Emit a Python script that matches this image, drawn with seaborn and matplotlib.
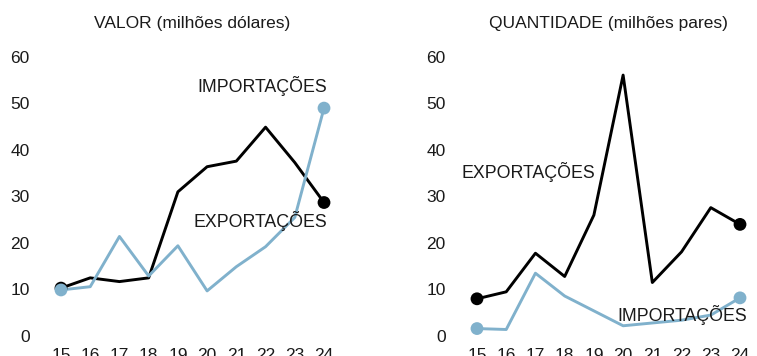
import matplotlib
matplotlib.use("Agg")
import matplotlib.pyplot as plt
import seaborn as sns
import pandas as pd

sns.set_theme(style="white")
plt.rcParams["font.family"] = ["Liberation Sans", "DejaVu Sans"]

anos = [15, 16, 17, 18, 19, 20, 21, 22, 23, 24]
valor_export = [10.3, 12.5, 11.7, 12.5, 31.0, 36.4, 37.6, 44.9, 37.3, 28.7]
valor_import = [9.9, 10.6, 21.4, 12.9, 19.4, 9.7, 14.9, 19.2, 25.5, 49.0]
qtd_export = [8.0, 9.5, 17.8, 12.8, 26.0, 56.1, 11.5, 18.1, 27.6, 24.0]
qtd_import = [1.6, 1.4, 13.5, 8.6, 5.4, 2.2, 2.8, 3.4, 4.5, 8.2]
y_ticks = [0, 10, 20, 30, 40, 50, 60]

PRETO = "#000000"
AZUL = "#80B1CC"
TEXTO = "#1a1a1a"

W, H = 757, 356
fig = plt.figure(figsize=(W / 100, H / 100), dpi=100)


def painel(left_px, export, importa, titulo, rotulos):
    ax = fig.add_axes([left_px / W, 1 - 340.65 / H, 286.4 / W, 293 / H])
    df = pd.DataFrame({
        "ano": anos * 2,
        "valor": export + importa,
        "serie": ["EXPORTAÇÕES"] * len(anos) + ["IMPORTAÇÕES"] * len(anos),
    })
    pal = {"EXPORTAÇÕES": PRETO, "IMPORTAÇÕES": AZUL}
    sns.lineplot(data=df, x="ano", y="valor", hue="serie", palette=pal,
                 linewidth=2.1, ax=ax, legend=False, zorder=2)
    ends = df[df["ano"].isin([anos[0], anos[-1]])]
    sns.scatterplot(data=ends, x="ano", y="valor", hue="serie", palette=pal,
                    s=85, edgecolor="none", ax=ax, legend=False, zorder=3)
    ax.set_xlim(14.6, 24.4)
    ax.set_ylim(-1, 62)
    ax.set_xticks(anos)
    ax.set_xticklabels([str(a) for a in anos])
    ax.set_yticks(y_ticks)
    ax.set_xlabel("")
    ax.set_ylabel("")
    ax.tick_params(axis="both", length=0, labelsize=12.5, colors=TEXTO)
    ax.tick_params(axis="x", pad=5)
    ax.tick_params(axis="y", pad=14)
    for s in ax.spines.values():
        s.set_visible(False)
    ax.grid(False)
    ax.set_title(titulo, fontsize=12.5, color=TEXTO, pad=14)
    for (tx, ty, txt) in rotulos:
        ax.text(tx, ty, txt, ha="right", va="center", fontsize=12.8,
                color=TEXTO, zorder=4)
    return ax


painel(49.3, valor_export, valor_import, "VALOR (milhões dólares)",
       [(24.12, 53.8, "IMPORTAÇÕES"), (24.12, 24.7, "EXPORTAÇÕES")])
painel(465.3, qtd_export, qtd_import, "QUANTIDADE (milhões pares)",
       [(19.04, 35.3, "EXPORTAÇÕES"), (24.25, 4.5, "IMPORTAÇÕES")])

fig.savefig("out.png", dpi=100)
